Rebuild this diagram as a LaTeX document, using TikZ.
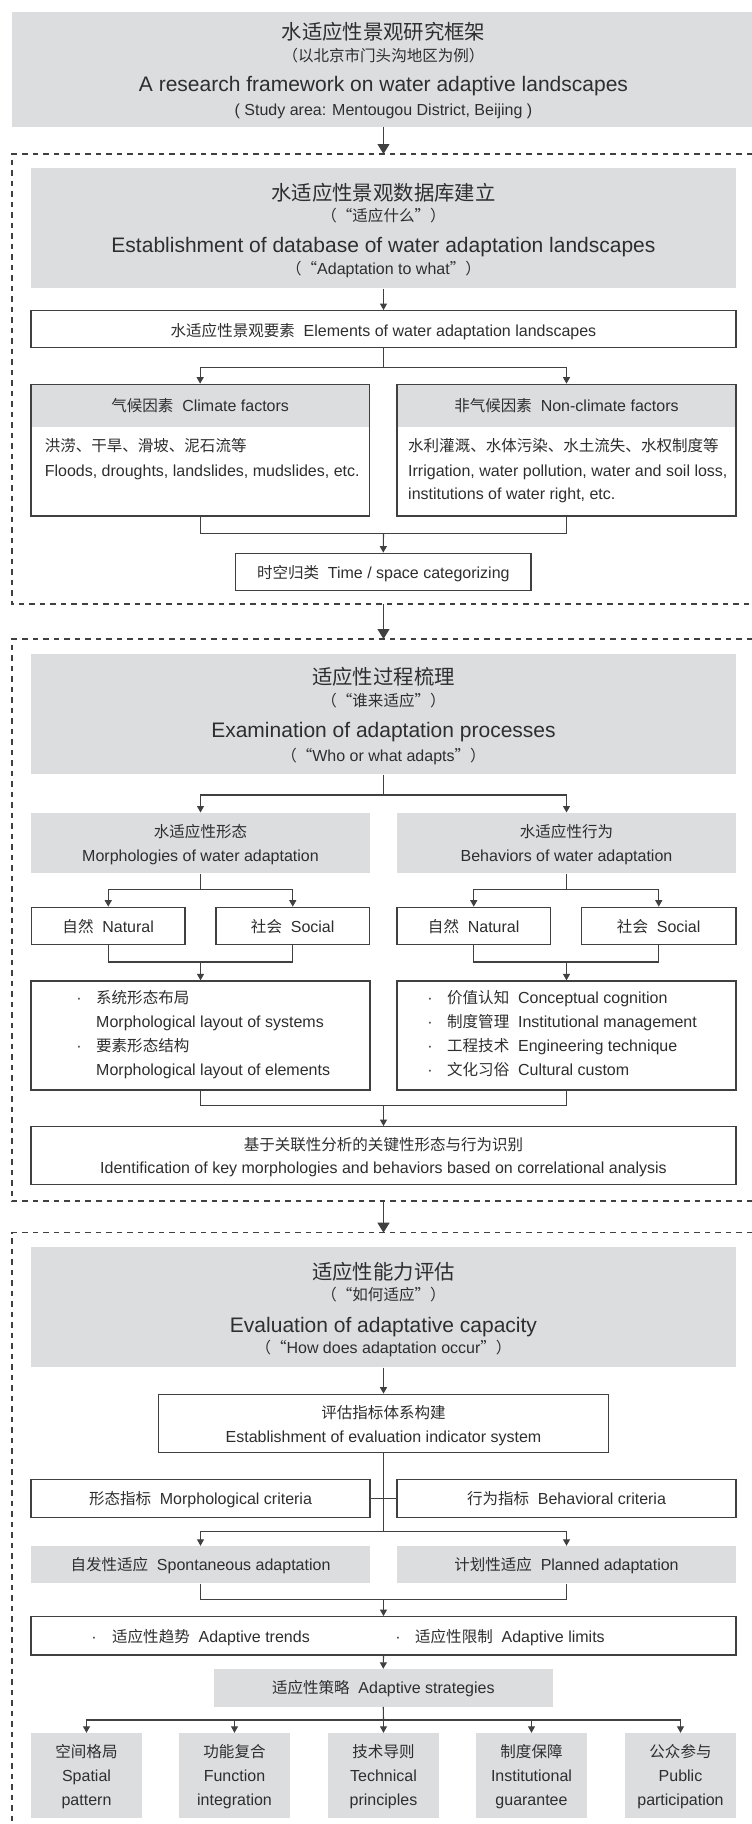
\documentclass[tikz,border=0pt]{standalone}
\usepackage{fontspec}
\setmainfont{Liberation Sans}
\newfontfamily\cjk[Scale=0.97]{Noto Sans CJK SC}
\usetikzlibrary{arrows.meta,calc}
\definecolor{gc}{HTML}{DCDDDF}
\definecolor{lc}{HTML}{404040}
\definecolor{tc}{HTML}{2E2E2E}
\newcommand\zh[1]{{\cjk #1}}
\newcommand\gap{\hspace{0.55em}}
\newcommand\bx[6]{%
  \pgfmathsetmacro\bxW{#5-#3}\pgfmathsetmacro\bxH{#6-#4}%
  \pgfmathsetmacro\bxX{(#3+#5)/2}\pgfmathsetmacro\bxY{(#4+#6)/2}%
  \node[#1, minimum width=\bxW pt, minimum height=\bxH pt] (#2) at (\bxX,\bxY) {};}
\begin{document}
\begin{tikzpicture}[x=1pt,y=-1pt,
  ln/.style={draw=lc, line width=1.1pt},
  sa/.style={ln, -{Triangle[width=7pt,length=6.5pt]}},
  ba/.style={ln, -{Triangle[width=12pt,length=10pt]}},
  wb/.style={draw=lc, line width=1.3pt, fill=white, inner sep=0pt, rectangle},
  wbo/.style={draw=lc, line width=1.3pt, inner sep=0pt, rectangle},
  gb/.style={fill=gc, inner sep=0pt, rectangle},
  dsh/.style={draw=lc, line width=1.1pt, dash pattern=on 5.5pt off 5pt},
  tb/.style={inner sep=0pt, text=tc, font=\fontsize{21}{21}\selectfont, text height=15.75pt, text depth=0pt},
  tn/.style={inner sep=0pt, text=tc, font=\fontsize{16}{16}\selectfont, text height=12pt, text depth=0pt},
  tw/.style={tn, anchor=west}]
\useasboundingbox (0,0) rectangle (752,1824);
\fill[white] (0,0) rectangle (752,1824);

% ---------- top ----------
\bx{gb}{t0}{12}{12.3}{752}{126.7}
\node[tb] (t0a) at (383.5,31.7) {\zh{水适应性景观研究框架}};
\node[tn] (t0b) at (383.5,55) {\zh{（以北京市门头沟地区为例）}};
\node[tb] (t0c) at (383.5,84) {A research framework on water adaptive landscapes};
\node[tn] (t0d) at (383.5,109) {( Study area: Mentougou District, Beijing )};

\coordinate (d1t) at (383.5,154);
\coordinate (d1b) at (383.5,604);
\coordinate (d2t) at (383.5,639);
\coordinate (d2b) at (383.5,1201);
\coordinate (d3t) at (383.5,1232.7);
\draw[dsh] (752,154) -- (12,154) -- (12,604) -- (752,604);
\draw[dsh] (752,639) -- (12,639) -- (12,1201) -- (752,1201);
\draw[dsh] (752,1232.7) -- (12,1232.7) -- (12,1824);
\draw[ba] (t0.south -| d1t) -- (d1t);
\draw[ba] (d1b) -- (d2t);
\draw[ba] (d2b) -- (d3t);

% ---------- section 1 ----------
\bx{gb}{g1}{31}{168.3}{736}{288.3}
\node[tb] (g1a) at (383.5,192.7) {\zh{水适应性景观数据库建立}};
\node[tn] (g1b) at (383.5,215) {\zh{（“适应什么”）}};
\node[tb] (g1c) at (383.5,245) {Establishment of database of water adaptation landscapes};
\node[tn] (g1d) at (383.5,268.3) {\zh{（“}Adaptation to what\zh{”）}};

\bx{wb}{e1}{31}{310.7}{736}{347.7}
\node[tn] (e1t) at (383.5,330) {\zh{水适应性景观要素}\gap Elements of water adaptation landscapes};
\draw[sa] (g1.south) -- (e1.north);

\bx{gb}{c1h}{31}{384.3}{369.3}{426.7}
\bx{wbo}{c1}{31}{384.3}{369.3}{516}
\bx{gb}{c2h}{397}{384.3}{736}{426.7}
\bx{wbo}{c2}{397}{384.3}{736}{516}
\node[tn] (c1t) at (200.2,405) {\zh{气候因素}\gap Climate factors};
\node[tw] (c1a) at (44.6,445.7) {\zh{洪涝、干旱、滑坡、泥石流等}};
\node[tw] (c1b) at (44.6,470) {Floods, droughts, landslides, mudslides, etc.};
\node[tn] (c2t) at (566.5,405) {\zh{非气候因素}\gap Non-climate factors};
\node[tw] (c2a) at (408,445.7) {\zh{水利灌溉、水体污染、水土流失、水权制度等}};
\node[tw] (c2b) at (408,470) {Irrigation, water pollution, water and soil loss,};
\node[tw] (c2c) at (408,493.3) {institutions of water right, etc.};

\coordinate (e1b) at (383.5,367.7);
\draw[ln] (e1.south) -- (e1b);
\draw[sa] (e1b) -| (c1.north);
\draw[sa] (e1b) -| (c2.north);

\bx{wb}{ts}{235.5}{553.3}{531}{590.7}
\node[tn] (tst) at (383.3,572.7) {\zh{时空归类}\gap Time / space categorizing};
\coordinate (c12) at (383.5,533.3);
\draw[ln] (c1.south) |- (c12) -| (c2.south);
\draw[sa] (c12) -- (ts.north);

% ---------- section 2 ----------
\bx{gb}{g2}{31}{654}{736}{774.3}
\node[tb] (g2a) at (383.5,676.7) {\zh{适应性过程梳理}};
\node[tn] (g2b) at (383.5,700) {\zh{（“谁来适应”）}};
\node[tb] (g2c) at (383.5,730) {Examination of adaptation processes};
\node[tn] (g2d) at (383.5,755) {\zh{（“}Who or what adapts\zh{”）}};

\bx{gb}{m1}{31}{812.7}{370}{873.3}
\bx{gb}{b1}{397}{812.7}{736}{873.3}
\node[tn] (m1a) at (200.5,831.7) {\zh{水适应性形态}};
\node[tn] (m1b) at (200.5,855.7) {Morphologies of water adaptation};
\node[tn] (b1a) at (566.5,831.7) {\zh{水适应性行为}};
\node[tn] (b1b) at (566.5,855.7) {Behaviors of water adaptation};
\coordinate (g2b0) at (383.5,795);
\draw[ln] (g2.south) -- (g2b0);
\draw[sa] (g2b0) -| (m1.north);
\draw[sa] (g2b0) -| (b1.north);

\bx{wb}{n1}{31.5}{907.3}{185}{944.3}
\bx{wb}{s1}{216}{907.3}{369.5}{944.3}
\bx{wb}{n2}{397}{907.3}{550.5}{944.3}
\bx{wb}{s2}{581.5}{907.3}{736}{944.3}
\node[tn] (n1t) at (108.2,926.7) {\zh{自然}\gap Natural};
\node[tn] (s1t) at (292.7,926.7) {\zh{社会}\gap Social};
\node[tn] (n2t) at (473.7,926.7) {\zh{自然}\gap Natural};
\node[tn] (s2t) at (658.7,926.7) {\zh{社会}\gap Social};
\coordinate (m1b0) at (200.5,889.3);
\coordinate (b1b0) at (566.5,889.3);
\draw[ln] (m1.south) -- (m1b0);
\draw[sa] (m1b0) -| (n1.north);
\draw[sa] (m1b0) -| (s1.north);
\draw[ln] (b1.south) -- (b1b0);
\draw[sa] (b1b0) -| (n2.north);
\draw[sa] (b1b0) -| (s2.north);

\bx{wb}{l1}{31}{981}{370}{1090}
\bx{wb}{r1}{397}{981}{736}{1090}
\coordinate (ns1) at (200.5,962);
\coordinate (ns2) at (566.5,962);
\draw[ln] (n1.south) |- (ns1) -| (s1.south);
\draw[sa] (ns1) -- (l1.north);
\draw[ln] (n2.south) |- (ns2) -| (s2.south);
\draw[sa] (ns2) -- (r1.north);

\node[tn] (l1d1) at (79,997.7) {·};
\node[tw] (l1a) at (96,997.7) {\zh{系统形态布局}};
\node[tw] (l1b) at (96,1021.7) {Morphological layout of systems};
\node[tn] (l1d2) at (79,1045.7) {·};
\node[tw] (l1c) at (96,1045.7) {\zh{要素形态结构}};
\node[tw] (l1e) at (96,1069.3) {Morphological layout of elements};

\node[tn] (r1d1) at (430,997.7) {·};
\node[tw] (r1a) at (447,997.7) {\zh{价值认知}\gap Conceptual cognition};
\node[tn] (r1d2) at (430,1021.7) {·};
\node[tw] (r1b) at (447,1021.7) {\zh{制度管理}\gap Institutional management};
\node[tn] (r1d3) at (430,1045.7) {·};
\node[tw] (r1c) at (447,1045.7) {\zh{工程技术}\gap Engineering technique};
\node[tn] (r1d4) at (430,1069.3) {·};
\node[tw] (r1e) at (447,1069.3) {\zh{文化习俗}\gap Cultural custom};

\bx{wb}{id1}{31}{1126.7}{736}{1184.3}
\node[tn] (id1a) at (383.5,1144.3) {\zh{基于关联性分析的关键性形态与行为识别}};
\node[tn] (id1b) at (383.5,1167.7) {Identification of key morphologies and behaviors based on correlational analysis};
\coordinate (lr) at (383.5,1105.7);
\draw[ln] (l1.south) |- (lr) -| (r1.south);
\draw[sa] (lr) -- (id1.north);

% ---------- section 3 ----------
\bx{gb}{g3}{31}{1247.3}{736}{1367.3}
\node[tb] (g3a) at (383.5,1271.7) {\zh{适应性能力评估}};
\node[tn] (g3b) at (383.5,1294.3) {\zh{（“如何适应”）}};
\node[tb] (g3c) at (383.5,1324.3) {Evaluation of adaptative capacity};
\node[tn] (g3d) at (383.5,1347.7) {\zh{（“}How does adaptation occur\zh{”）}};

\bx{wb}{ei}{158.5}{1394.3}{608.5}{1452.7}
\node[tn] (eia) at (383.5,1412.7) {\zh{评估指标体系构建}};
\node[tn] (eib0) at (383.5,1436.7) {Establishment of evaluation indicator system};
\draw[sa] (g3.south) -- (ei.north);

\bx{wb}{mc}{31}{1479.3}{370}{1517.3}
\bx{wb}{bc}{397}{1479.3}{736}{1517.3}
\node[tn] (mct) at (200.5,1498.3) {\zh{形态指标}\gap Morphological criteria};
\node[tn] (bct) at (566.5,1498.3) {\zh{行为指标}\gap Behavioral criteria};
\coordinate (eib) at (383.5,1531.7);
\draw[ln] (ei.south) -- (eib);
\draw[ln] (mc.east) -- (bc.west);

\bx{gb}{sp}{31}{1546}{370}{1583.3}
\bx{gb}{pl}{397}{1546}{736}{1583.3}
\node[tn] (spt) at (200.5,1564.3) {\zh{自发性适应}\gap Spontaneous adaptation};
\node[tn] (plt) at (566.5,1564.3) {\zh{计划性适应}\gap Planned adaptation};
\draw[sa] (eib) -| (sp.north);
\draw[sa] (eib) -| (pl.north);

\bx{wb}{tr}{31}{1616.7}{736}{1655}
\coordinate (spl) at (383.5,1599.3);
\draw[ln] (sp.south) |- (spl) -| (pl.south);
\draw[sa] (spl) -- (tr.north);
\node[tn] (trd1) at (94,1636.7) {·};
\node[tw] (tra) at (112,1636.7) {\zh{适应性趋势}\gap Adaptive trends};
\node[tn] (trd2) at (398,1636.7) {·};
\node[tw] (trb) at (415,1636.7) {\zh{适应性限制}\gap Adaptive limits};

\bx{gb}{st}{214}{1669}{552.5}{1706.7}
\node[tn] (stt) at (383.3,1687.7) {\zh{适应性策略}\gap Adaptive strategies};
\draw[sa] (tr.south) -- (st.north);

\bx{gb}{p1}{31}{1733}{142}{1817.5}
\bx{gb}{p2}{179}{1733}{290}{1817.5}
\bx{gb}{p3}{328}{1733}{439}{1817.5}
\bx{gb}{p4}{476}{1733}{587}{1817.5}
\bx{gb}{p5}{625}{1733}{736}{1817.5}
\coordinate (stb) at (383.5,1720);
\draw[ln] (st.south) -- (stb);
\draw[sa] (stb) -| (p1.north);
\draw[sa] (stb) -| (p5.north);
\draw[sa] (p2.north |- stb) -- (p2.north);
\draw[sa] (stb) -- (p3.north);
\draw[sa] (p4.north |- stb) -- (p4.north);

\node[tn] (p1a) at (86.5,1751) {\zh{空间格局}};
\node[tn] (p1b) at (86.5,1775.7) {Spatial};
\node[tn] (p1c) at (86.5,1799.3) {pattern};
\node[tn] (p2a) at (234.5,1751) {\zh{功能复合}};
\node[tn] (p2b) at (234.5,1775.7) {Function};
\node[tn] (p2c) at (234.5,1799.3) {integration};
\node[tn] (p3a) at (383.5,1751) {\zh{技术导则}};
\node[tn] (p3b) at (383.5,1775.7) {Technical};
\node[tn] (p3c) at (383.5,1799.3) {principles};
\node[tn] (p4a) at (531.5,1751) {\zh{制度保障}};
\node[tn] (p4b) at (531.5,1775.7) {Institutional};
\node[tn] (p4c) at (531.5,1799.3) {guarantee};
\node[tn] (p5a) at (680.5,1751) {\zh{公众参与}};
\node[tn] (p5b) at (680.5,1775.7) {Public};
\node[tn] (p5c) at (680.5,1799.3) {participation};
\end{tikzpicture}
\end{document}
